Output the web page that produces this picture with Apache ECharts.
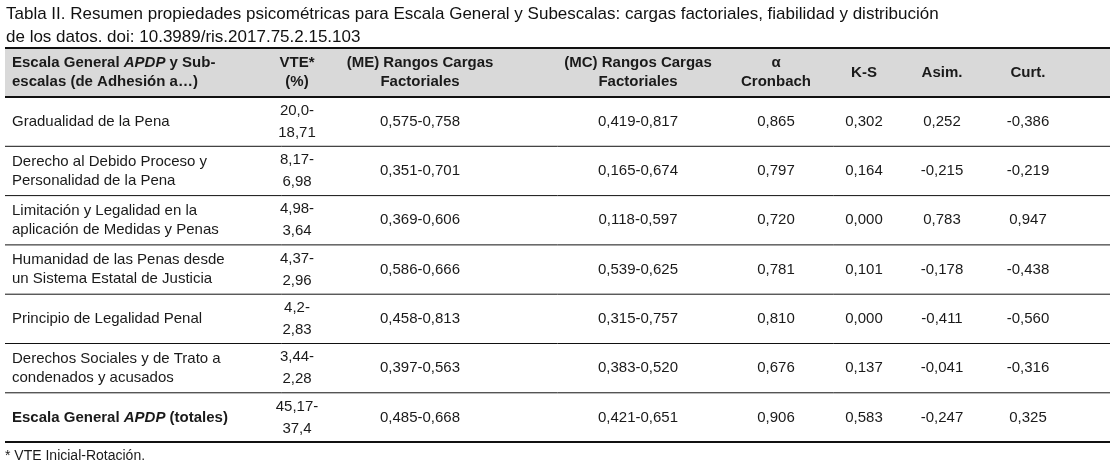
<!DOCTYPE html>
<html><head><meta charset="utf-8">
<script src="https://cdn.jsdelivr.net/npm/echarts@6/dist/echarts.min.js"></script>
<style>html,body{margin:0;padding:0;background:#fff}#main{width:1114px;height:466px}</style>
</head><body><div id="main"></div>
<script>
const titleLines = ['Tabla II. Resumen propiedades psicométricas para Escala General y Subescalas: cargas factoriales, fiabilidad y distribución', 'de los datos. doi: 10.3989/ris.2017.75.2.15.103'];
const headers = [['Escala General {i|APDP} y Sub-', 'escalas (de Adhesión a…)'], ['VTE*', '(%)'], ['(ME) Rangos Cargas', 'Factoriales'], ['(MC) Rangos Cargas', 'Factoriales'], ['α', 'Cronbach'], ['K-S'], ['Asim.'], ['Curt.']];
const rowNames = [['Gradualidad de la Pena'], ['Derecho al Debido Proceso y', 'Personalidad de la Pena'], ['Limitación y Legalidad en la', 'aplicación de Medidas y Penas'], ['Humanidad de las Penas desde', 'un Sistema Estatal de Justicia'], ['Principio de Legalidad Penal'], ['Derechos Sociales y de Trato a', 'condenados y acusados'], ['{b|Escala General }{bi|APDP}{b| (totales)}']];
const vte = [['20,0-', '18,71'], ['8,17-', '6,98'], ['4,98-', '3,64'], ['4,37-', '2,96'], ['4,2-', '2,83'], ['3,44-', '2,28'], ['45,17-', '37,4']];
const meRange = ['0,575-0,758', '0,351-0,701', '0,369-0,606', '0,586-0,666', '0,458-0,813', '0,397-0,563', '0,485-0,668'];
const mcRange = ['0,419-0,817', '0,165-0,674', '0,118-0,597', '0,539-0,625', '0,315-0,757', '0,383-0,520', '0,421-0,651'];
const alpha = ['0,865', '0,797', '0,720', '0,781', '0,810', '0,676', '0,906'];
const ks = ['0,302', '0,164', '0,000', '0,101', '0,000', '0,137', '0,583'];
const asim = ['0,252', '-0,215', '0,783', '-0,178', '-0,411', '-0,041', '-0,247'];
const curt = ['-0,386', '-0,219', '0,947', '-0,438', '-0,560', '-0,316', '0,325'];
const footnote = '* VTE Inicial-Rotación.';

const F = 'Liberation Sans, Arial, sans-serif';
const colX = [12, 297, 420, 638, 776, 864, 942, 1028];
const tableTop = 48, headBottom = 97, rowH = 49.3, left = 5, right = 1110;
const els = [];
function txt(x, y, text, opt) {
  els.push({type: 'text', x: x, y: y, z: 10, style: Object.assign({text: text, font: '15px ' + F, fill: '#1a1a1a',
    textAlign: 'center', textVerticalAlign: 'middle', lineHeight: 19,
    rich: {i: {fontStyle: 'italic', fontWeight: 'bold', fontSize: 15, fontFamily: F},
           b: {fontWeight: 'bold', fontSize: 15, fontFamily: F},
           bi: {fontStyle: 'italic', fontWeight: 'bold', fontSize: 15, fontFamily: F}}}, opt || {})});
}
function hline(y, w) {
  els.push({type: 'line', z: 5, shape: {x1: left, y1: y, x2: right, y2: y}, style: {stroke: '#111', lineWidth: w}});
}
titleLines.forEach((t, i) => txt(6, 14 + i * 23, t, {textAlign: 'left', font: '17px ' + F, fill: '#111'}));
els.push({type: 'rect', z: 1, shape: {x: left, y: tableTop, width: right - left, height: headBottom - tableTop}, style: {fill: '#d9d9d9'}});
headers.forEach((h, c) => txt(colX[c], (tableTop + headBottom) / 2, h.join('\n'),
  {font: 'bold 15px ' + F, textAlign: c === 0 ? 'left' : 'center'}));
const cols = [vte, meRange, mcRange, alpha, ks, asim, curt];
rowNames.forEach((n, r) => {
  const cy = headBottom + rowH * (r + 0.5);
  txt(colX[0], cy, n.join('\n'), {textAlign: 'left'});
  cols.forEach((col, c) => {
    const v = col[r];
    txt(colX[c + 1], cy, Array.isArray(v) ? v.join('\n') : v, {lineHeight: 22});
  });
  if (r > 0) hline(headBottom + rowH * r, 1);
});
hline(tableTop, 2); hline(headBottom, 2); hline(headBottom + rowH * 7, 2);
txt(5, 456, footnote, {textAlign: 'left', font: '14px ' + F});

const chart = echarts.init(document.getElementById('main'));
chart.setOption({animation: false, graphic: {elements: els}});
</script></body></html>
